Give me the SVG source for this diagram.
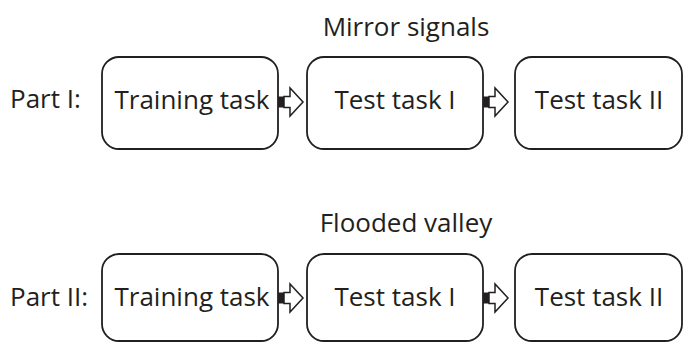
<svg xmlns="http://www.w3.org/2000/svg" width="684" height="343" viewBox="0 0 684 343">
  <style>
    .box { fill: #ffffff; stroke: #231f20; stroke-width: 1.8; }
    .lbl { font-family: "Open Sans", "Noto Sans", sans-serif; font-size: 26px; fill: #231f20; }
    .mid { text-anchor: middle; }
    .tail { fill: #231f20; }
    .head { fill: #ffffff; stroke: #231f20; stroke-width: 1.5; stroke-linejoin: miter; }
  </style>
  <defs>
    <!-- block arrow: solid tail stub followed by an outlined arrow, origin at the left tip of the stub -->
    <g id="blockArrow">
      <rect class="tail" x="0" y="-5.5" width="6" height="11"/>
      <path class="head" d="M6,-5.5 H12 V-14 L25,0 L12,14 V5.5 H6 Z"/>
    </g>
  </defs>

  <rect width="684" height="343" fill="#ffffff"/>

  <!-- Part I -->
  <g id="title-1"><text class="lbl mid" x="406" y="36">Mirror signals</text></g>
  <g id="row-label-1"><text class="lbl" x="10" y="108">Part I:</text></g>

  <g id="p1-training">
    <rect class="box" x="102" y="57" width="176" height="92" rx="17"/>
    <text class="lbl mid" x="192" y="109">Training task</text>
  </g>
  <g id="p1-test1">
    <rect class="box" x="307" y="57" width="176" height="92" rx="17"/>
    <text class="lbl mid" x="395" y="109">Test task I</text>
  </g>
  <g id="p1-test2">
    <rect class="box" x="515" y="57" width="167" height="92" rx="17"/>
    <text class="lbl mid" x="599" y="109">Test task II</text>
  </g>

  <!-- Part II -->
  <g id="title-2"><text class="lbl mid" x="406" y="232">Flooded valley</text></g>
  <g id="row-label-2"><text class="lbl" x="10" y="306">Part II:</text></g>

  <g id="p2-training">
    <rect class="box" x="102" y="254" width="176" height="87" rx="17"/>
    <text class="lbl mid" x="192" y="306">Training task</text>
  </g>
  <g id="p2-test1">
    <rect class="box" x="307" y="254" width="176" height="87" rx="17"/>
    <text class="lbl mid" x="395" y="306">Test task I</text>
  </g>
  <g id="p2-test2">
    <rect class="box" x="515" y="254" width="167" height="87" rx="17"/>
    <text class="lbl mid" x="599" y="306">Test task II</text>
  </g>

  <!-- connectors -->
  <g id="connectors">
    <use href="#blockArrow" x="278" y="102"/>
    <use href="#blockArrow" x="483" y="102"/>
    <use href="#blockArrow" x="278" y="298"/>
    <use href="#blockArrow" x="483" y="298"/>
  </g>
</svg>
